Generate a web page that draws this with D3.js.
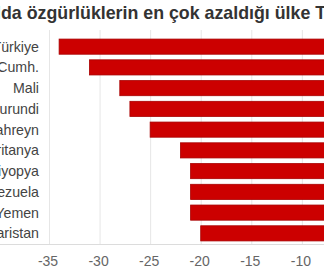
<!DOCTYPE html>
<html>
<head>
<meta charset="utf-8">
<script src="https://cdn.jsdelivr.net/npm/d3@7"></script>
<style>
  body { margin: 0; background: #fff; overflow: hidden; }
  svg { display: block; font-family: "Liberation Sans", Arial, sans-serif; }
</style>
</head>
<body>
<svg id="chart"></svg>
<script>
var width = 324, height = 275;

const countries = ["Türkiye", "Orta Afrika Cumh.", "Mali", "Burundi", "Bahreyn",
    "Moritanya", "Etiyopya", "Venezuela", "Yemen", "Macaristan"];
const change = [-34, -31, -28, -27, -25, -22, -21, -21, -21, -20];
const ticks = [-35, -30, -25, -20, -15, -10, -5, 0];
const titleText = "Son 10 yılda özgürlüklerin en çok azaldığı ülke Türkiye";
const titleHidden = "Son 10 yıl"; // part that falls off the left edge

const svg = d3.select("#chart").attr("width", width).attr("height", height);

const x = d3.scaleLinear().domain([-35, 0]).range([49, 403]);
const y = d3.scaleBand().domain(countries).range([37, 243]).paddingInner(0.27).paddingOuter(0.1);

// title, shifted so the visible part starts at the left edge
const probe = svg.append("text").attr("font-size", 17.8).attr("font-weight", "bold").text(titleHidden);
const shift = probe.node().getComputedTextLength();
probe.remove();
svg.append("text")
    .attr("x", 1 - shift)
    .attr("y", 19)
    .attr("font-size", 17.8)
    .attr("font-weight", "bold")
    .attr("fill", "#333")
    .text(titleText);

// grid
svg.append("g")
    .selectAll("line")
    .data(ticks)
    .enter()
    .append("line")
    .attr("x1", d => x(d) + 0.5)
    .attr("x2", d => x(d) + 0.5)
    .attr("y1", 30)
    .attr("y2", 244)
    .attr("stroke", "#e6e6e6");

svg.append("line")
    .attr("x1", 0).attr("x2", width)
    .attr("y1", 244.5).attr("y2", 244.5)
    .attr("stroke", "#dcdcdc");

// bars
svg.append("g")
    .selectAll("rect")
    .data(countries)
    .enter()
    .append("rect")
    .attr("x", (d, i) => x(change[i]))
    .attr("y", d => y(d))
    .attr("width", (d, i) => x(0) - x(change[i]))
    .attr("height", y.bandwidth())
    .attr("fill", "#cc0000")
    .attr("stroke", "#a80000")
    .attr("stroke-width", 0.8);

// category labels
svg.append("g")
    .selectAll("text")
    .data(countries)
    .enter()
    .append("text")
    .attr("x", 39)
    .attr("y", d => y(d) + y.bandwidth() / 2)
    .attr("dy", "0.35em")
    .attr("text-anchor", "end")
    .attr("font-size", 14.2)
    .attr("fill", "#444")
    .text(d => d);

// tick labels
svg.append("g")
    .selectAll("text")
    .data(ticks)
    .enter()
    .append("text")
    .attr("x", d => x(d) - 1)
    .attr("y", 266)
    .attr("text-anchor", "middle")
    .attr("font-size", 14)
    .attr("fill", "#666")
    .text(d => d);
</script>
</body>
</html>
